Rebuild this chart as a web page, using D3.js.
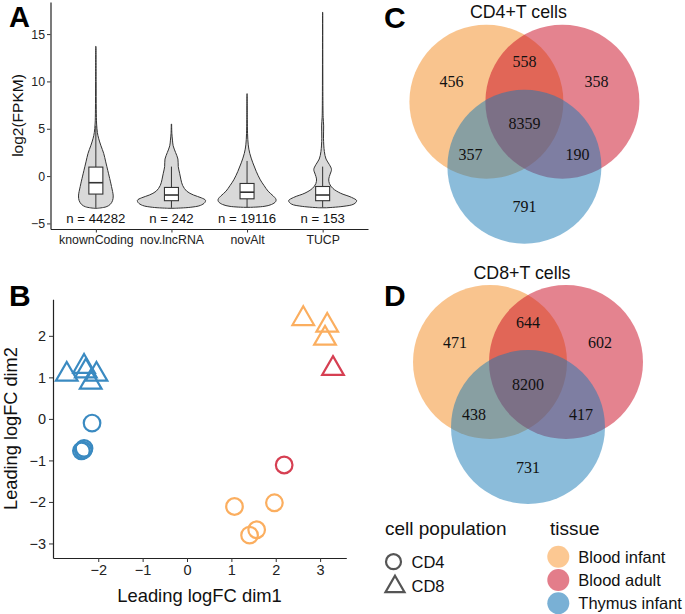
<!DOCTYPE html>
<html><head><meta charset="utf-8">
<script src="https://cdn.jsdelivr.net/npm/d3@7"></script>
<style>body{margin:0;background:#fff}svg{display:block}</style>
</head><body>
<svg id="c" width="685" height="614"></svg>
<script>
// ---------- Panel A data ----------
const categories = ["knownCoding","nov.lncRNA","novAlt","TUCP"];
const countLabels = ["n = 44282","n = 242","n = 19116","n = 153"];
// density profiles: [log2(FPKM), relative half-width]
const profKnownCoding = [[-3.4,0.05],[-3.25,0.3],[-3.0,0.42],[-2.6,0.49],[-2.1,0.51],[-1.1,0.46],[0,0.39],[0.6,0.35],[1.5,0.29],[2.4,0.23],[3.2,0.15],[4.0,0.08],[4.6,0.045],[5.5,0.022],[7,0.012],[10,0.008],[13.7,0.005]];
const profNovLnc = [[-3.4,0.1],[-3.3,0.55],[-3.1,0.85],[-2.8,0.98],[-2.55,1.0],[-2.3,0.88],[-2.0,0.65],[-1.6,0.45],[-1.0,0.33],[-0.4,0.28],[0.3,0.24],[1.0,0.2],[1.8,0.19],[2.5,0.12],[3.2,0.05],[3.8,0.03],[4.5,0.012],[5.5,0.005]];
const profNovAlt = [[-3.3,0.1],[-3.2,0.5],[-3.0,0.72],[-2.7,0.84],[-2.45,0.85],[-2.1,0.77],[-1.6,0.62],[-1.0,0.5],[-0.4,0.39],[0.5,0.27],[1.4,0.17],[2.4,0.08],[3.3,0.035],[4.5,0.015],[6,0.008],[8.7,0.004]];
const profTUCP = [[-3.35,0.1],[-3.2,0.6],[-2.95,0.92],[-2.6,1.0],[-2.25,0.85],[-1.8,0.52],[-1.3,0.3],[-0.8,0.2],[-0.3,0.18],[0.2,0.22],[0.7,0.26],[1.2,0.2],[1.8,0.1],[2.6,0.05],[4,0.025],[5.3,0.03],[6.2,0.015],[8,0.008],[17.3,0.004]];
const boxQ1 = [-1.9,-2.6,-2.4,-2.6];
const boxMedian = [-0.7,-2.0,-1.7,-2.0];
const boxQ3 = [0.95,-1.2,-0.78,-1.1];
const whiskerLow = [-3.35,-3.35,-3.3,-3.3];
const whiskerHigh = [5.3,1.0,1.6,1.0];
const yTicksA = [-5,0,5,10,15];

// ---------- Panel B data ----------
const dim1 = [-2.71,-2.32,-2.28,-2.04,-2.17, -2.14,-2.32,-2.38,-2.34, 1.07,1.97,1.57,1.41, 2.19, 2.62,3.16,3.11, 3.29];
const dim2 = [1.07,1.26,1.15,1.07,0.88, -0.10,-0.71,-0.77,-0.75, -2.11,-2.02,-2.67,-2.80, -1.11, 2.41,2.25,1.94, 1.21];
const population = ["CD8","CD8","CD8","CD8","CD8","CD4","CD4","CD4","CD4","CD4","CD4","CD4","CD4","CD4","CD8","CD8","CD8","CD8"];
const tissue = ["Thymus infant","Thymus infant","Thymus infant","Thymus infant","Thymus infant","Thymus infant","Thymus infant","Thymus infant","Thymus infant","Blood infant","Blood infant","Blood infant","Blood infant","Blood adult","Blood infant","Blood infant","Blood infant","Blood adult"];
const xTicksB = [-2,-1,0,1,2,3];
const yTicksB = [-3,-2,-1,0,1,2];
const populations = ["CD4","CD8"];
const tissues = ["Blood infant","Blood adult","Thymus infant"];

// ---------- Venn data ----------
// region order: A only, A∩B, B only, A∩B∩C, A∩C, B∩C, C only (A=Blood infant, B=Blood adult, C=Thymus infant)
const vennCD4 = [456,558,358,8359,357,190,791];
const vennCD8 = [471,644,602,8200,438,417,731];
const vennTitles = ["CD4+T cells","CD8+T cells"];

// ---------- styles ----------
const pointColors = {"Blood infant":"#FBAE5F","Blood adult":"#D63F52","Thymus infant":"#3A8AC1"};
const vennColors = ["#F3891D","#C9071F","#1779B5"];
const sans = "'Liberation Sans', Arial, Helvetica, sans-serif";
const serif = "'Liberation Serif', 'Times New Roman', serif";

const svg = d3.select("#c");

// ================= Panel A =================
{
  const g = svg.append("g");
  const x = d3.scalePoint().domain(categories).range([50.5,368]).padding(0.6);
  const y = d3.scaleLinear().domain([-5.59,18.39]).range([229,2]);
  const w = d3.scaleLinear().domain([0,1]).range([0, x.step()*0.45]);
  const profiles = [profKnownCoding, profNovLnc, profNovAlt, profTUCP];
  categories.forEach((c,i)=>{
    const cx = x(c);
    const area = d3.area().curve(d3.curveCatmullRom.alpha(0.5))
      .y(d=>y(d[0])).x0(d=>cx - w(d[1])).x1(d=>cx + w(d[1]));
    g.append("path").attr("d", area(profiles[i]))
      .attr("fill","#d9d9d9").attr("stroke","#333").attr("stroke-width",1);
    g.append("line").attr("x1",cx).attr("x2",cx).attr("y1",y(boxQ3[i])).attr("y2",y(whiskerHigh[i]))
      .attr("stroke","#333").attr("stroke-width",1);
    g.append("line").attr("x1",cx).attr("x2",cx).attr("y1",y(boxQ1[i])).attr("y2",y(whiskerLow[i]))
      .attr("stroke","#333").attr("stroke-width",1);
    g.append("rect").attr("x",cx-7).attr("width",14).attr("y",y(boxQ3[i])).attr("height",y(boxQ1[i])-y(boxQ3[i]))
      .attr("fill","#fff").attr("stroke","#333").attr("stroke-width",1.1);
    g.append("line").attr("x1",cx-7).attr("x2",cx+7).attr("y1",y(boxMedian[i])).attr("y2",y(boxMedian[i]))
      .attr("stroke","#333").attr("stroke-width",1.6);
    g.append("text").attr("x",cx).attr("y",y(-4.5)).attr("dy","0.36em").attr("text-anchor","middle")
      .attr("font-family",sans).attr("font-size",13.2).attr("fill","#111").text(countLabels[i]);
  });
  const ya = g.append("g").attr("transform","translate(50.5,0)")
    .call(d3.axisLeft(y).tickValues(yTicksA).tickSize(3.5).tickSizeOuter(0).tickPadding(2).tickFormat(d=>d<0?"\u2212"+(-d):d));
  const xa = g.append("g").attr("transform","translate(0,229)")
    .call(d3.axisBottom(x).tickSize(3.5).tickSizeOuter(0).tickPadding(3));
  [ya,xa].forEach(a=>{
    a.select(".domain").attr("stroke","#222").attr("stroke-width",1.2);
    a.selectAll(".tick line").attr("stroke","#333");
    a.selectAll("text").attr("font-family",sans).attr("font-size",12.3).attr("fill","#222");
  });
  g.append("text").attr("transform","translate(23,115.5) rotate(-90)").attr("text-anchor","middle")
    .attr("font-family",sans).attr("font-size",15.5).attr("fill","#111").text("log2(FPKM)");
  g.append("text").attr("x",9).attr("y",27).attr("font-family",sans).attr("font-weight","bold")
    .attr("font-size",29).text("A");
}

// ================= Panel B =================
{
  const g = svg.append("g");
  const x = d3.scaleLinear().domain([-3.02,3.59]).range([53,346.3]);
  const y = d3.scaleLinear().domain([-3.35,2.88]).range([558,299.3]);
  const tri = R => `M0,${-R}L${R*Math.sqrt(3)/2},${R/2}L${-R*Math.sqrt(3)/2},${R/2}Z`;
  dim1.forEach((d,i)=>{
    const col = pointColors[tissue[i]];
    if (population[i]==="CD4") {
      g.append("circle").attr("cx",x(d)).attr("cy",y(dim2[i])).attr("r",8.3)
        .attr("fill","none").attr("stroke",col).attr("stroke-width",2.2);
    } else {
      g.append("path").attr("transform",`translate(${x(d)},${y(dim2[i])})`).attr("d",tri(12.5))
        .attr("fill","none").attr("stroke",col).attr("stroke-width",2.2);
    }
  });
  const fmt = d=>d<0?"\u2212"+(-d):d;
  const xa = g.append("g").attr("transform","translate(0,558)")
    .call(d3.axisBottom(x).tickValues(xTicksB).tickSize(4).tickSizeOuter(0).tickPadding(3).tickFormat(fmt));
  const ya = g.append("g").attr("transform","translate(53,0)")
    .call(d3.axisLeft(y).tickValues(yTicksB).tickSize(4).tickSizeOuter(0).tickPadding(3).tickFormat(fmt));
  [ya,xa].forEach(a=>{
    a.select(".domain").attr("stroke","#222").attr("stroke-width",1.2);
    a.selectAll(".tick line").attr("stroke","#333");
    a.selectAll("text").attr("font-family",sans).attr("font-size",14.5).attr("fill","#222");
  });
  g.append("text").attr("x",199.5).attr("y",602).attr("text-anchor","middle")
    .attr("font-family",sans).attr("font-size",18.4).attr("fill","#111").text("Leading logFC dim1");
  g.append("text").attr("transform","translate(17,428.5) rotate(-90)").attr("text-anchor","middle")
    .attr("font-family",sans).attr("font-size",18.2).attr("fill","#111").text("Leading logFC dim2");
  g.append("text").attr("x",9).attr("y",306).attr("font-family",sans).attr("font-weight","bold")
    .attr("font-size",30).text("B");
}

// ================= Panels C & D (Venn) =================
function venn(cx, cy, counts, title, titleY, letter, letterY) {
  const g = svg.append("g");
  const r = 77;
  const centers = [[-38,0],[38,0],[0,65]];
  centers.forEach((c,i)=>{
    g.append("circle").attr("cx",cx+c[0]).attr("cy",cy+c[1]).attr("r",r)
      .attr("fill",vennColors[i]).attr("fill-opacity",0.5);
  });
  const labelOffsets = [[-73,-20],[0,-40],[72,-20],[0,22],[-54,52.5],[53,52.5],[0,105]];
  counts.forEach((n,i)=>{
    g.append("text").attr("x",cx+labelOffsets[i][0]).attr("y",cy+labelOffsets[i][1]).attr("dy","0.35em")
      .attr("text-anchor","middle").attr("font-family",serif).attr("font-size",16).attr("fill","#111").text(n);
  });
  g.append("text").attr("x",cx-6).attr("y",titleY).attr("text-anchor","middle")
    .attr("font-family",sans).attr("font-size",17.8).attr("fill","#111").text(title);
  g.append("text").attr("x",384).attr("y",letterY).attr("font-family",sans).attr("font-weight","bold")
    .attr("font-size",30).text(letter);
}
venn(524.4, 101.7, vennCD4, vennTitles[0], 18, "C", 28);
venn(528, 362, vennCD8, vennTitles[1], 278.5, "D", 306);

// ================= Legends =================
{
  const g = svg.append("g");
  g.append("text").attr("x",385).attr("y",535).attr("font-family",sans).attr("font-size",19).attr("fill","#111").text("cell population");
  g.append("text").attr("x",550).attr("y",535).attr("font-family",sans).attr("font-size",19).attr("fill","#111").text("tissue");
  const tri = R => `M0,${-R}L${R*Math.sqrt(3)/2},${R/2}L${-R*Math.sqrt(3)/2},${R/2}Z`;
  populations.forEach((p,i)=>{
    const yy = 561.7 + i*24;
    if (p==="CD4") g.append("circle").attr("cx",393.5).attr("cy",yy).attr("r",7.5).attr("fill","none").attr("stroke","#555").attr("stroke-width",2.2);
    else g.append("path").attr("transform",`translate(395,${yy+1})`).attr("d",tri(11)).attr("fill","none").attr("stroke","#555").attr("stroke-width",2.2);
    g.append("text").attr("x",411.5).attr("y",yy).attr("dy","0.36em").attr("font-family",sans).attr("font-size",16.5).attr("fill","#111").text(p);
  });
  tissues.forEach((t,i)=>{
    const yy = 556.7 + i*23.3;
    g.append("circle").attr("cx",558.3).attr("cy",yy).attr("r",11).attr("fill",pointColors[t]).attr("fill-opacity",0.68);
    g.append("text").attr("x",578.3).attr("y",yy).attr("dy","0.36em").attr("font-family",sans).attr("font-size",16.5).attr("fill","#111").text(t);
  });
}
</script>
</body></html>
